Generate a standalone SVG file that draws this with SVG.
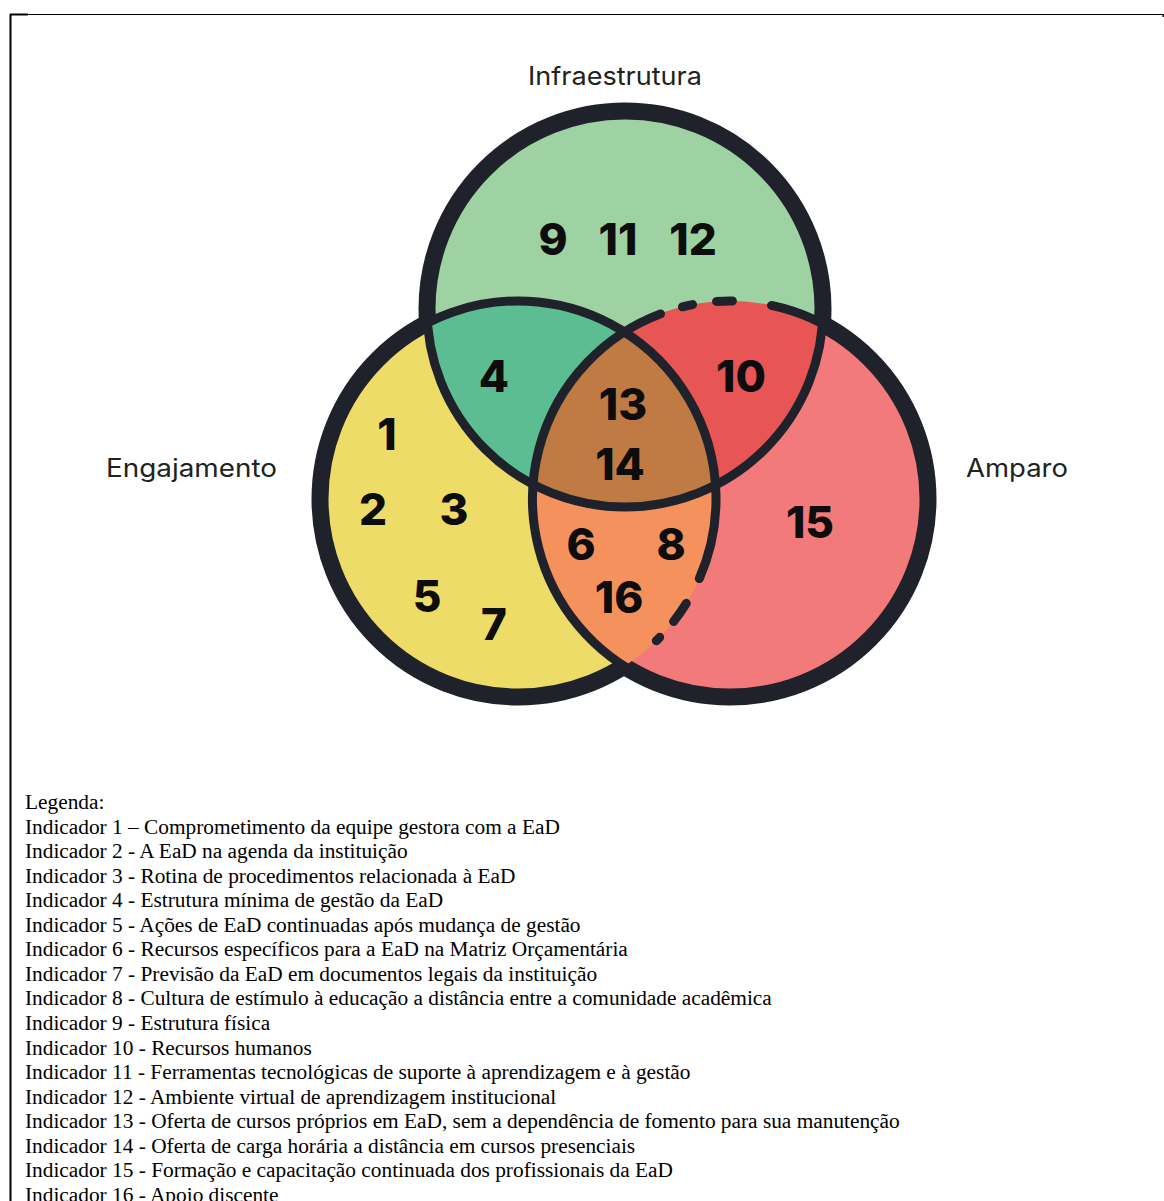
<svg xmlns="http://www.w3.org/2000/svg" width="1164" height="1201" viewBox="0 0 1164 1201">
<defs>
<style>
.num{font-family:Inter,"DejaVu Sans",sans-serif;font-weight:800;font-size:44px;fill:#0d0d0d;text-anchor:middle}
.lab{font-family:Inter,"Liberation Sans",sans-serif;font-size:25px;fill:#222222}
.leg{font-family:"Liberation Serif","Times New Roman",serif;font-size:21.33px;fill:#000000}
.thin{fill:none;stroke:#20222b;stroke-width:9;stroke-linecap:round}
.band{fill:none;stroke:#20222b;stroke-width:17}
</style>
<clipPath id="clipL"><circle cx="518" cy="499" r="198"/></clipPath>
<clipPath id="clipT"><circle cx="625" cy="309" r="198"/></clipPath>
<mask id="mL" maskUnits="userSpaceOnUse" x="0" y="0" width="1164" height="1201"><rect width="1164" height="1201" fill="#fff"/><circle cx="625" cy="309" r="198" fill="#000"/><circle cx="730" cy="499" r="198" fill="#000"/></mask>
<mask id="mT" maskUnits="userSpaceOnUse" x="0" y="0" width="1164" height="1201"><rect width="1164" height="1201" fill="#fff"/><circle cx="518" cy="499" r="198" fill="#000"/><circle cx="730" cy="499" r="198" fill="#000"/></mask>
<mask id="mR" maskUnits="userSpaceOnUse" x="0" y="0" width="1164" height="1201"><rect width="1164" height="1201" fill="#fff"/><circle cx="518" cy="499" r="198" fill="#000"/><circle cx="625" cy="309" r="198" fill="#000"/></mask>
</defs>
<rect width="1164" height="1201" fill="#ffffff"/>
<g id="frame" fill="#000">
<rect x="10" y="14" width="1153" height="1"/>
<rect x="9.5" y="14" width="2" height="1187"/>
<rect x="10" y="13.5" width="18" height="2"/>
<rect x="1162.5" y="14" width="1.5" height="3"/>
</g>
<g id="venn">
<g id="fills">
<circle cx="518" cy="499" r="198" fill="#EDDC68"/>
<circle cx="625" cy="309" r="198" fill="#9FD2A2"/>
<circle cx="730" cy="499" r="198" fill="#F27A7A"/>
<circle cx="625" cy="309" r="198" fill="#5DBD92" clip-path="url(#clipL)"/>
<circle cx="730" cy="499" r="198" fill="#F5915D" clip-path="url(#clipL)"/>
<circle cx="730" cy="499" r="198" fill="#E85555" clip-path="url(#clipT)"/>
<g clip-path="url(#clipT)"><circle cx="730" cy="499" r="198" fill="#C07B45" clip-path="url(#clipL)"/></g>
</g>
<g id="connectors">
<circle class="thin" cx="625" cy="309" r="198"/>
<path class="thin" d="M699.31,578.58 A198,198 0 1 0 617.0,670.47"/>
<path class="thin" d="M771.50,305.40 A198,198 0 1 1 660.5,313.9"/>
<path class="thin" d="M682.44,306.80 A198,198 0 0 1 692.56,304.56"/>
<path class="thin" d="M716.54,301.45 A198,198 0 0 1 732.42,301.01"/>
<path class="thin" d="M686.28,603.35 A198,198 0 0 1 673.61,621.44"/>
<path class="thin" d="M659.71,637.28 A198,198 0 0 1 656.28,640.71"/>
<circle class="band" cx="518" cy="499" r="198" mask="url(#mL)"/>
<circle class="band" cx="625" cy="309" r="198" mask="url(#mT)"/>
<circle class="band" cx="730" cy="499" r="198" mask="url(#mR)"/>
</g>
</g>
<g id="labels">
<text class="lab" x="528" y="84.5" textLength="174" lengthAdjust="spacingAndGlyphs">Infraestrutura</text>
<text class="lab" x="106" y="477" textLength="171" lengthAdjust="spacingAndGlyphs">Engajamento</text>
<text class="lab" x="966" y="477" textLength="102" lengthAdjust="spacingAndGlyphs">Amparo</text>
</g>
<g id="numbers">
<text class="num" x="553" y="255">9</text>
<text class="num" x="618" y="255">11</text>
<text class="num" x="693" y="255">12</text>
<text class="num" x="494" y="392">4</text>
<text class="num" x="387" y="450">1</text>
<text class="num" x="373" y="525">2</text>
<text class="num" x="454" y="525">3</text>
<text class="num" x="427" y="612">5</text>
<text class="num" x="494" y="640">7</text>
<text class="num" x="581" y="560">6</text>
<text class="num" x="671" y="560">8</text>
<text class="num" x="619" y="613">16</text>
<text class="num" x="623" y="420">13</text>
<text class="num" x="620" y="480">14</text>
<text class="num" x="741" y="392">10</text>
<text class="num" x="810" y="538">15</text>
</g>
<g id="legend">
<text class="leg" x="25" y="809">Legenda:</text>
<text class="leg" x="25" y="833.6">Indicador 1 – Comprometimento da equipe gestora com a EaD</text>
<text class="leg" x="25" y="858.1">Indicador 2 - A EaD na agenda da instituição</text>
<text class="leg" x="25" y="882.7">Indicador 3 - Rotina de procedimentos relacionada à EaD</text>
<text class="leg" x="25" y="907.2">Indicador 4 - Estrutura mínima de gestão da EaD</text>
<text class="leg" x="25" y="931.8">Indicador 5 - Ações de EaD continuadas após mudança de gestão</text>
<text class="leg" x="25" y="956.3">Indicador 6 - Recursos específicos para a EaD na Matriz Orçamentária</text>
<text class="leg" x="25" y="980.9">Indicador 7 - Previsão da EaD em documentos legais da instituição</text>
<text class="leg" x="25" y="1005.4">Indicador 8 - Cultura de estímulo à educação a distância entre a comunidade acadêmica</text>
<text class="leg" x="25" y="1030">Indicador 9 - Estrutura física</text>
<text class="leg" x="25" y="1054.5">Indicador 10 - Recursos humanos</text>
<text class="leg" x="25" y="1079.1">Indicador 11 - Ferramentas tecnológicas de suporte à aprendizagem e à gestão</text>
<text class="leg" x="25" y="1103.6">Indicador 12 - Ambiente virtual de aprendizagem institucional</text>
<text class="leg" x="25" y="1128.2">Indicador 13 - Oferta de cursos próprios em EaD, sem a dependência de fomento para sua manutenção</text>
<text class="leg" x="25" y="1152.7">Indicador 14 - Oferta de carga horária a distância em cursos presenciais</text>
<text class="leg" x="25" y="1177.3">Indicador 15 - Formação e capacitação continuada dos profissionais da EaD</text>
<text class="leg" x="25" y="1201.5">Indicador 16 - Apoio discente</text>
</g>
</svg>
